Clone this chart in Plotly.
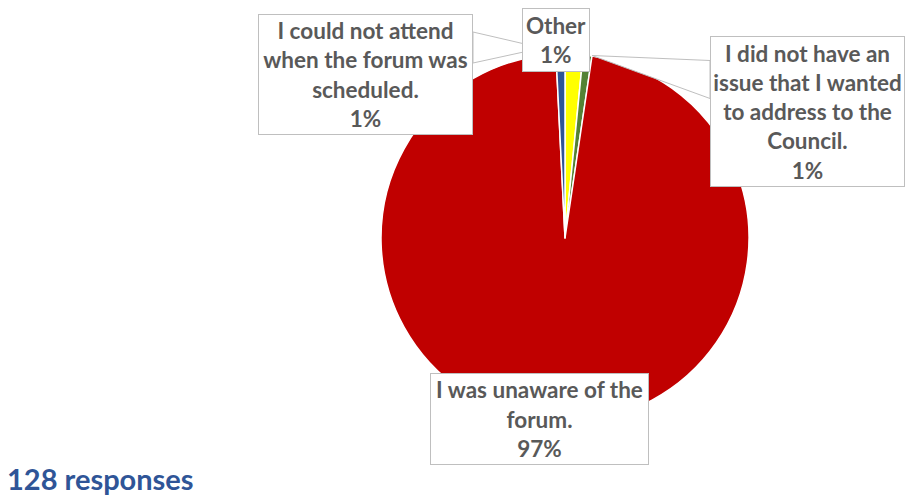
import plotly.graph_objects as go

W, H = 906, 495

# ---- data ----
categories = [
    "Other",
    "I did not have an issue that I wanted to address to the Council.",
    "I was unaware of the forum.",
    "I could not attend when the forum was scheduled.",
]
responses = [2, 1, 124, 1]
shown_pct = ["1%", "1%", "97%", "1%"]
label_lines = [
    ["Other"],
    ["I did not have an", "issue that I wanted", "to address to the", "Council."],
    ["I was unaware of the", "forum."],
    ["I could not attend", "when the forum was", "scheduled."],
]
colors = ["#FFFF00", "#548235", "#C00000", "#2F5597"]
total_text = "128 responses"


def px(x):
    return x / W


def py(y):
    return 1 - y / H


cx, cy, r = 565, 238, 184

fig = go.Figure()
fig.add_trace(go.Pie(
    labels=categories,
    values=responses,
    sort=False,
    direction="clockwise",
    rotation=0,
    marker=dict(colors=colors, line=dict(color="white", width=1.5)),
    textinfo="none",
    hoverinfo="label+value",
    showlegend=False,
    domain=dict(x=[px(cx - r), px(cx + r)], y=[py(cy + r), py(cy - r)]),
))

# callout boxes: (index, center x, center y, width, height)
boxes = [
    (0, 556, 40, 68, 64),
    (1, 807.5, 111.5, 195, 151),
    (2, 539, 419.3, 219, 92),
    (3, 365.5, 74.5, 215, 121),
]

# callout wedges (pointer tips toward slices)
wedges = [
    [(473, 32), (542, 48), (473, 63)],
    [(710, 60.5), (592, 55.5), (710, 98.5)],
]
for pts in wedges:
    path = "M " + " L ".join(f"{px(x)},{py(y)}" for x, y in pts) + " Z"
    fig.add_shape(type="path", path=path, xref="paper", yref="paper",
                  fillcolor="white", line=dict(color="#BFBFBF", width=1),
                  layer="above")

for idx, bx, by, bw, bh in boxes:
    text = "<br>".join(label_lines[idx] + [shown_pct[idx]])
    fig.add_annotation(
        x=px(bx), y=py(by), xref="paper", yref="paper",
        xanchor="center", yanchor="middle",
        width=bw - 2, height=bh - 2,
        text=f"<b>{text}</b>", showarrow=False, align="center",
        font=dict(family="Lato", size=22.5, color="#595959"),
        bgcolor="white", bordercolor="#BFBFBF", borderwidth=1, borderpad=0,
    )

fig.add_annotation(
    x=px(5), y=py(478), xref="paper", yref="paper",
    xanchor="left", yanchor="middle",
    text=f"<b>{total_text}</b>", showarrow=False,
    font=dict(family="Lato", size=29, color="#2F5597"),
)

fig.update_layout(
    width=W, height=H,
    margin=dict(l=0, r=0, t=0, b=0),
    paper_bgcolor="white", plot_bgcolor="white",
)

fig.write_html(
    "out.html",
    config={"displayModeBar": False},
    post_script="document.body.style.margin='0';document.body.style.overflow='hidden';",
)
